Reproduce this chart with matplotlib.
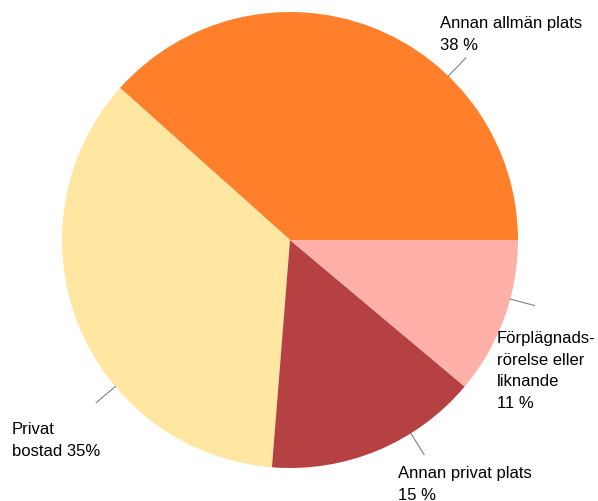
import numpy as np
import matplotlib.pyplot as plt

plt.rcParams['font.family'] = ['Liberation Sans', 'DejaVu Sans']

# andel brott per plats (%)
kategorier = ['Annan allmän plats', 'Privat bostad', 'Annan privat plats',
              'Förplägnads-\nrörelse eller\nliknande']
andelar = [38, 35, 15, 11]
etiketter = ['Annan allmän plats\n38 %', 'Privat\nbostad 35%',
             'Annan privat plats\n15 %', 'Förplägnads-\nrörelse eller\nliknande\n11 %']
farger = ['#FF7F2A', '#FFE6A1', '#B54142', '#FFB0A8']

W, H = 598, 502
cx, cy, r = 290, H - 241, 228

fig = plt.figure(figsize=(W / 100, H / 100), dpi=100)
ax = fig.add_axes([0, 0, 1, 1])
ax.pie(andelar, colors=farger, startangle=0, counterclock=True,
       center=(cx, cy), radius=r,
       wedgeprops=dict(linewidth=0.6, edgecolor='none'))
ax.set_xlim(0, W)
ax.set_ylim(0, H)
ax.set_aspect('equal')
ax.axis('off')

# ledarlinjer och etiketter
linjevinklar = [46, 220, 302, 345]
textpos = [(440, 16), (12, 422), (398, 466), (497, 331)]
for etikett, v, (tx, ty) in zip(etiketter, linjevinklar, textpos):
    a = np.deg2rad(v)
    ax.plot([cx + r * np.cos(a), cx + 253 * np.cos(a)],
            [cy + r * np.sin(a), cy + 253 * np.sin(a)],
            color='#808080', lw=0.8)
    ax.text(tx, H - ty, etikett, ha='left', va='top', fontsize=12,
            linespacing=1.55, color='black')

fig.savefig('out.png', dpi=100)
